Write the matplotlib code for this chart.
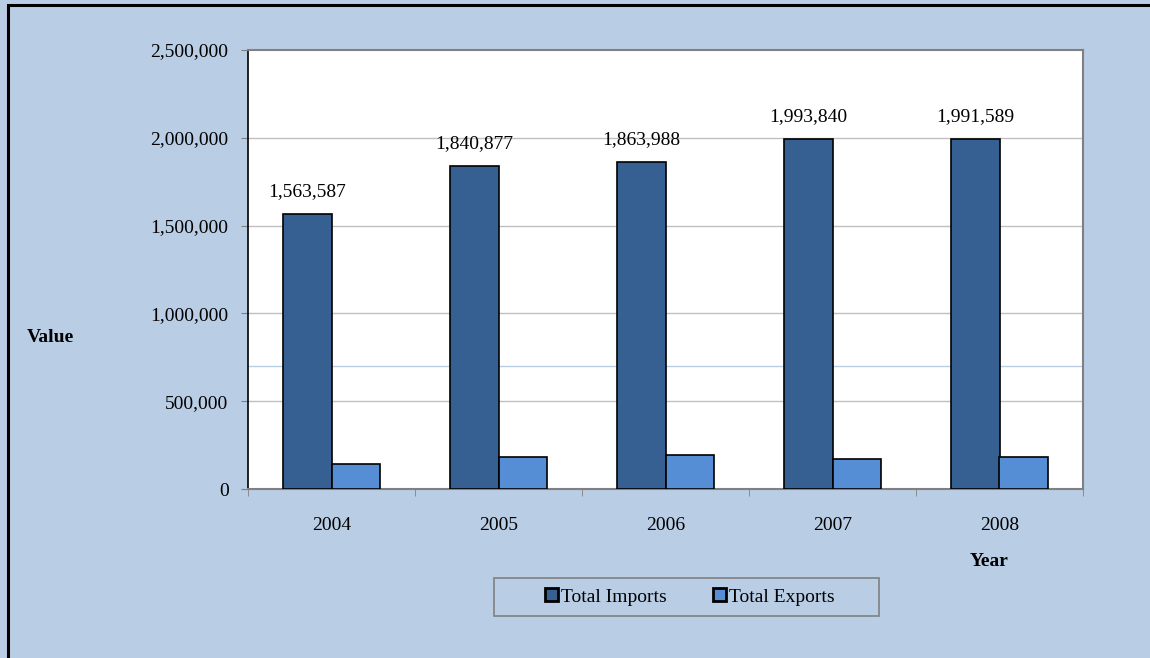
import matplotlib
matplotlib.use("Agg")
import matplotlib.pyplot as plt
import numpy as np
from matplotlib.patches import Rectangle
from matplotlib.ticker import FuncFormatter

years = ["2004", "2005", "2006", "2007", "2008"]
imports = [1563587, 1840877, 1863988, 1993840, 1991589]
exports = [144000, 182000, 195000, 173000, 180000]
series_names = ["Total Imports", "Total Exports"]

plt.rcParams['font.family'] = ['Liberation Serif', 'DejaVu Serif']

BG = "#B9CDE5"
C_IMP = "#366092"
C_EXP = "#558ED5"

fig = plt.figure(figsize=(11.5, 6.58), dpi=100, facecolor=BG)
# outer border (left/top visible)
fig.patches.append(Rectangle((8/1150, -0.05), 1.2, 1 - 5/658 + 0.05,
                             transform=fig.transFigure, fill=False,
                             edgecolor="black", linewidth=2.2, zorder=10))

ax = fig.add_axes([248/1150, 1 - 489/658, (1083-248)/1150, (489-50)/658])
ax.set_facecolor("white")

x = np.arange(len(years))
w = 0.29
ax.bar(x - w/2, imports, width=w, color=C_IMP, edgecolor="black", linewidth=1.2,
       label=series_names[0], zorder=3)
ax.bar(x + w/2, exports, width=w, color=C_EXP, edgecolor="black", linewidth=1.2,
       label=series_names[1], zorder=3)

for xi, v in zip(x, imports):
    ax.annotate(f"{v:,}", (xi - w/2, v), xytext=(0, 10), textcoords="offset points",
                ha="center", va="bottom", fontsize=14)

ax.set_xlim(-0.5, len(years) - 0.5)
ax.set_ylim(0, 2500000)
ax.set_yticks(np.arange(0, 2500001, 500000))
ax.yaxis.set_major_formatter(FuncFormatter(lambda v, p: f"{int(v):,}"))
ax.set_xticks(x)
ax.set_xticklabels(years)
ax.set_xticks(np.arange(-0.5, len(years)), minor=True)
ax.tick_params(axis="x", which="major", length=0, pad=20, labelsize=14)
ax.tick_params(axis="x", which="minor", length=5, color="#808080", direction="out")
ax.tick_params(axis="y", length=5, color="#808080", direction="out", pad=9, labelsize=14)

for yv in [500000, 1000000, 1500000, 2000000]:
    ax.axhline(yv, color="#C0C0C0", linewidth=1.0, zorder=1)
ax.axhline(700000, color=BG, linewidth=1.0, zorder=1)

ax.spines["left"].set_color("black")
ax.spines["left"].set_linewidth(1.2)
for s in ["top", "right", "bottom"]:
    ax.spines[s].set_color("#808080")
    ax.spines[s].set_linewidth(1.5)

fig.text(50/1150, 1 - 337/658, "Value", ha="center", va="center",
         fontsize=14, fontweight="bold")
fig.text(989/1150, 1 - 561/658, "Year", ha="center", va="center",
         fontsize=14, fontweight="bold")

# legend box
fig.patches.append(Rectangle((494/1150, 1 - 616/658), 385/1150, 38/658,
                             transform=fig.transFigure, facecolor=BG,
                             edgecolor="#808080", linewidth=1.2, zorder=5))
leg = fig.legend(loc="center", bbox_to_anchor=(690/1150, 1 - 597/658),
                 bbox_transform=fig.transFigure, ncol=2, frameon=False,
                 fontsize=14, handlelength=0.65, handleheight=0.65, handletextpad=0.15,
                 columnspacing=2.4, borderaxespad=0)
leg.set_zorder(6)
for h in leg.legend_handles:
    h.set_linewidth(2.0)

fig.savefig("out.png", dpi=100, facecolor=BG)
